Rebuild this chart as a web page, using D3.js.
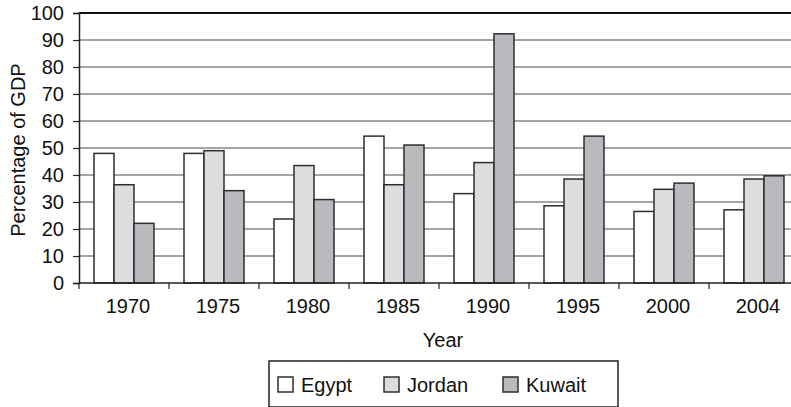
<!DOCTYPE html>
<html>
<head>
<meta charset="utf-8">
<script src="https://cdn.jsdelivr.net/npm/d3@7"></script>
<style>
  body { margin: 0; background: #fff; }
  text { font-family: "Liberation Sans", Arial, sans-serif; fill: #111; }
</style>
</head>
<body>
<div class="chart"></div>
<script>
var years = ["1970", "1975", "1980", "1985", "1990", "1995", "2000", "2004"];
var countries = ["Egypt", "Jordan", "Kuwait"];
var egypt  = [48, 48, 23.7, 54.4, 33.1, 28.6, 26.5, 27.1];
var jordan = [36.4, 49, 43.5, 36.4, 44.6, 38.5, 34.7, 38.5];
var kuwait = [22.1, 34.2, 30.9, 51.1, 92.3, 54.4, 37, 39.7];
var yTicks = [0, 10, 20, 30, 40, 50, 60, 70, 80, 90, 100];

var colors = { Egypt: "#ffffff", Jordan: "#dcdddf", Kuwait: "#b9babe" };
var seriesValues = { Egypt: egypt, Jordan: jordan, Kuwait: kuwait };

var svgWidth = 791;
var svgHeight = 407;
var margin = { top: 13, left: 79, bottom: 124 };
var plotRight = 799;  // plot runs past the picture edge
var chartWidth = plotRight - margin.left;
var chartHeight = svgHeight - margin.top - margin.bottom;
var fontSize = 20;

var svg = d3.select(".chart")
  .append("svg")
  .attr("width", svgWidth)
  .attr("height", svgHeight);

var chart = svg.append("g")
  .attr("transform", "translate(" + margin.left + "," + margin.top + ")");

var x0 = d3.scaleBand().domain(years).range([0, chartWidth]).paddingInner(0).paddingOuter(0);
var x1 = d3.scaleBand().domain(countries).range([15, x0.bandwidth() - 15]);
var y = d3.scaleLinear().domain([0, 100]).range([chartHeight, 0]);

// gridlines
chart.selectAll("line.grid")
  .data(yTicks.filter(function(d) { return d > 0 && d < 100; }))
  .enter()
  .append("line")
  .attr("class", "grid")
  .attr("x1", 0)
  .attr("x2", chartWidth)
  .attr("y1", function(d) { return y(d); })
  .attr("y2", function(d) { return y(d); })
  .attr("stroke", "#4a4a4a")
  .attr("stroke-width", 1.2);

// top border line
chart.append("line")
  .attr("x1", 0).attr("x2", chartWidth)
  .attr("y1", y(100)).attr("y2", y(100))
  .attr("stroke", "#111")
  .attr("stroke-width", 2.2);

// bars
var groups = chart.selectAll("g.year")
  .data(years)
  .enter()
  .append("g")
  .attr("class", "year")
  .attr("transform", function(d) { return "translate(" + x0(d) + ",0)"; });

groups.selectAll("rect")
  .data(function(d, i) {
    return countries.map(function(c) { return { country: c, value: seriesValues[c][i] }; });
  })
  .enter()
  .append("rect")
  .attr("x", function(d) { return x1(d.country); })
  .attr("y", function(d) { return y(d.value); })
  .attr("width", x1.bandwidth())
  .attr("height", function(d) { return chartHeight - y(d.value); })
  .attr("fill", function(d) { return colors[d.country]; })
  .attr("stroke", "#2e2e2e")
  .attr("stroke-width", 1.5);

// y axis
var yAxis = d3.axisLeft(y).tickValues(yTicks).tickSize(6).tickPadding(9);
var yG = chart.append("g").call(yAxis);
yG.attr("font-size", fontSize).attr("font-family", null);
yG.select(".domain").attr("stroke", "#222").attr("stroke-width", 1.5);
yG.selectAll(".tick line").attr("stroke", "#222").attr("stroke-width", 1.2);
yG.selectAll(".tick text").attr("fill", "#111");

// x axis: ticks at band boundaries
chart.append("line")
  .attr("x1", 0).attr("x2", chartWidth)
  .attr("y1", chartHeight).attr("y2", chartHeight)
  .attr("stroke", "#222").attr("stroke-width", 1.5);

chart.selectAll("line.xtick")
  .data(years)
  .enter()
  .append("line")
  .attr("class", "xtick")
  .attr("x1", function(d) { return x0(d); })
  .attr("x2", function(d) { return x0(d); })
  .attr("y1", chartHeight)
  .attr("y2", chartHeight + 6)
  .attr("stroke", "#222")
  .attr("stroke-width", 1.2);

chart.selectAll("text.xlabel")
  .data(years)
  .enter()
  .append("text")
  .attr("class", "xlabel")
  .attr("x", function(d) { return x0(d) + x0.bandwidth() / 2 + 4; })
  .attr("y", chartHeight + 30)
  .attr("text-anchor", "middle")
  .attr("font-size", fontSize)
  .text(function(d) { return d; });

// axis titles
svg.append("text")
  .attr("x", 443)
  .attr("y", 347)
  .attr("text-anchor", "middle")
  .attr("font-size", fontSize)
  .text("Year");

svg.append("text")
  .attr("transform", "translate(25," + (margin.top + chartHeight / 2 + 2) + ") rotate(-90)")
  .attr("text-anchor", "middle")
  .attr("font-size", fontSize)
  .text("Percentage of GDP");

// legend
var legend = svg.append("g").attr("transform", "translate(269,361)");
legend.append("rect")
  .attr("width", 349)
  .attr("height", 46)
  .attr("fill", "#fff")
  .attr("stroke", "#222")
  .attr("stroke-width", 1.5);

var legendX = [9, 115, 234];
var items = legend.selectAll("g.item")
  .data(countries)
  .enter()
  .append("g")
  .attr("class", "item")
  .attr("transform", function(d, i) { return "translate(" + legendX[i] + ",16)"; });

items.append("rect")
  .attr("width", 15)
  .attr("height", 15)
  .attr("fill", function(d) { return colors[d]; })
  .attr("stroke", "#2e2e2e")
  .attr("stroke-width", 1.5);

items.append("text")
  .attr("x", 23)
  .attr("y", 15)
  .attr("font-size", fontSize)
  .text(function(d) { return d; });
</script>
</body>
</html>
